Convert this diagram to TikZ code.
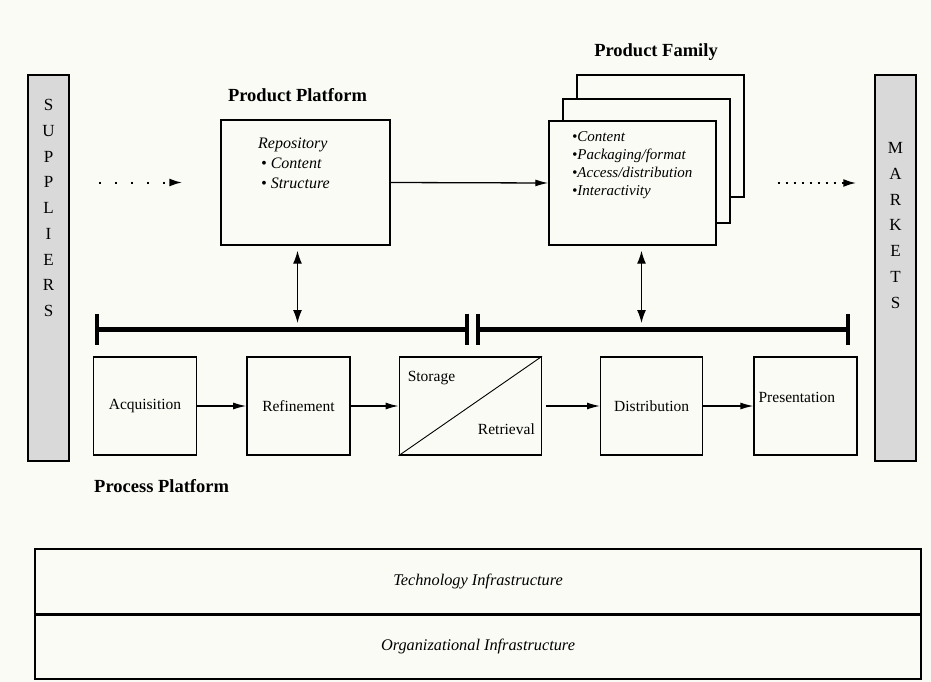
\documentclass[tikz,border=0pt]{standalone}
\usepackage{fontspec}
\setmainfont{Liberation Serif}
\usepackage{tikz}
\usetikzlibrary{arrows,arrows.meta,shapes,positioning,calc}
\usepackage{xcolor}
\definecolor{paper}{RGB}{251,251,246}
\definecolor{sidegray}{RGB}{217,217,217}

\begin{document}
\begin{tikzpicture}[
    x=1pt, y=-1pt,
    title/.style={font=\fontsize{18.5}{21}\selectfont\bfseries, inner sep=0pt},
    side/.style={draw, fill=sidegray, line width=1.5pt, minimum width=41pt, minimum height=386pt},
    sidetext/.style={font=\fontsize{17}{25.75}\selectfont, align=center, inner sep=0pt},
    sheet/.style={draw, fill=paper, line width=1.4pt, minimum width=167pt, minimum height=124pt},
    note/.style={font=\fontsize{15}{18}\selectfont\itshape, align=left, inner sep=0pt},
    stage/.style={draw, line width=1.4pt, minimum width=103pt, minimum height=98pt,
        inner sep=0pt, font=\fontsize{15.5}{18}\selectfont},
    tag/.style={font=\fontsize{15.5}{18}\selectfont, inner sep=0pt},
    layer/.style={draw, line width=1.4pt, minimum width=886pt, minimum height=65pt,
        font=\fontsize{16.3}{19}\selectfont\itshape},
    flow/.style={-{Latex[length=13pt,width=7pt]}, line width=1.3pt},
    dotflow/.style={-{Latex[length=13pt,width=8pt]}, line width=2pt},
    both/.style={{Latex[length=13pt,width=9pt]}-{Latex[length=13pt,width=9pt]}, line width=1.3pt},
    rail/.style={line width=5pt},
    railend/.style={line width=4pt}
]

\fill[paper] (0,0) rectangle (931,682);
\useasboundingbox (0,0) rectangle (931,682);

\node[side] (sup) at (48.5,268) {};
\node[sidetext, anchor=north] (supText) at ([yshift=-25pt]sup.north) {S\\U\\P\\P\\L\\I\\E\\R\\S};
\node[side] (mkt) at (895.5,268) {};
\node[sidetext, anchor=north] (mktText) at ([yshift=-68pt]mkt.north) {M\\A\\R\\K\\E\\T\\S};

\node[title] (ppTitle) at (297.5,95) {Product Platform};
\node[sheet, minimum width=169pt, minimum height=125pt] (pp) at (305.5,182.5) {};
\node[note, anchor=north west, font=\fontsize{16}{20}\selectfont\itshape] (ppText) at (258,138)
    {Repository\\\hspace{3pt}• Content\\\hspace{3pt}• Structure};

\node[title] (pfTitle) at (656,52) {Product Family};
\node[sheet, minimum height=122pt] (pf3) at (660.5,136) {};
\node[sheet] (pf2) at (646.5,161) {};
\node[sheet] (pf1) at (632.5,183) {};
\node[note, anchor=north west] (pfText) at (572,131)
    {•Content\\•Packaging/format\\•Access/distribution\\•Interactivity};

\draw[flow] (pp.east) -- (pf1.west);
\draw[dotflow, dash pattern=on 2pt off 14pt, shorten <=29pt, shorten >=38pt] (sup.east |- pp.west) -- (pp.west);
\draw[dotflow, dash pattern=on 2pt off 6pt, shorten <=61pt, shorten >=18pt] (pf1.east) -- (mkt.west |- pf1.east);

\coordinate (barA) at (97,329);
\coordinate (barB) at (467,329);
\coordinate (barC) at (478,329);
\coordinate (barD) at (848,329);
\draw[rail] (barA) -- (barB);
\draw[rail] (barC) -- (barD);
\foreach \c in {barA,barB,barC,barD}
    \draw[railend] ([yshift=15.5pt]\c) -- ([yshift=-15.5pt]\c);

\coordinate (ppDrop) at ($(pp.south)+(-8,0)$);
\coordinate (pfDrop) at ($(pf1.south)+(9,0)$);
\draw[both, shorten <=5pt, shorten >=6pt] (ppDrop) -- (ppDrop |- barA);
\draw[both, shorten <=5pt, shorten >=6pt] (pfDrop) -- (pfDrop |- barC);

\node[stage] (acq) at (145,406) {Acquisition};
\node[stage] (ref) [right=49pt of acq] {Refinement};
\node[stage, minimum width=142pt] (sto) [right=48pt of ref] {};
\node[stage, minimum width=102pt] (dis) [right=58pt of sto] {Distribution};
\node[stage] (pre) [right=50pt of dis] {};

\draw[line width=0.9pt] (sto.south west) -- (sto.north east);
\node[tag, anchor=west] (stoTop) at ([xshift=9pt,yshift=-22pt]sto.north west) {Storage};
\node[tag, anchor=east] (stoBot) at ([xshift=-7pt,yshift=27pt]sto.south east) {Retrieval};
\node[tag, anchor=west] (preText) at ([xshift=5pt,yshift=9pt]pre.west) {Presentation};

\draw[flow] (acq) -- (ref);
\draw[flow] (ref) -- (sto);
\draw[flow, shorten <=4pt] (sto) -- (dis);
\draw[flow] (dis) -- (pre);

\node[title, anchor=west] (procTitle) at (94,486) {Process Platform};

\node[layer] (tech) at (478,581.5) {Technology Infrastructure};
\node[layer] (org) at (478,646.5) {Organizational Infrastructure};
\draw[line width=3pt] (tech.south west) -- (tech.south east);

\end{tikzpicture}
\end{document}
